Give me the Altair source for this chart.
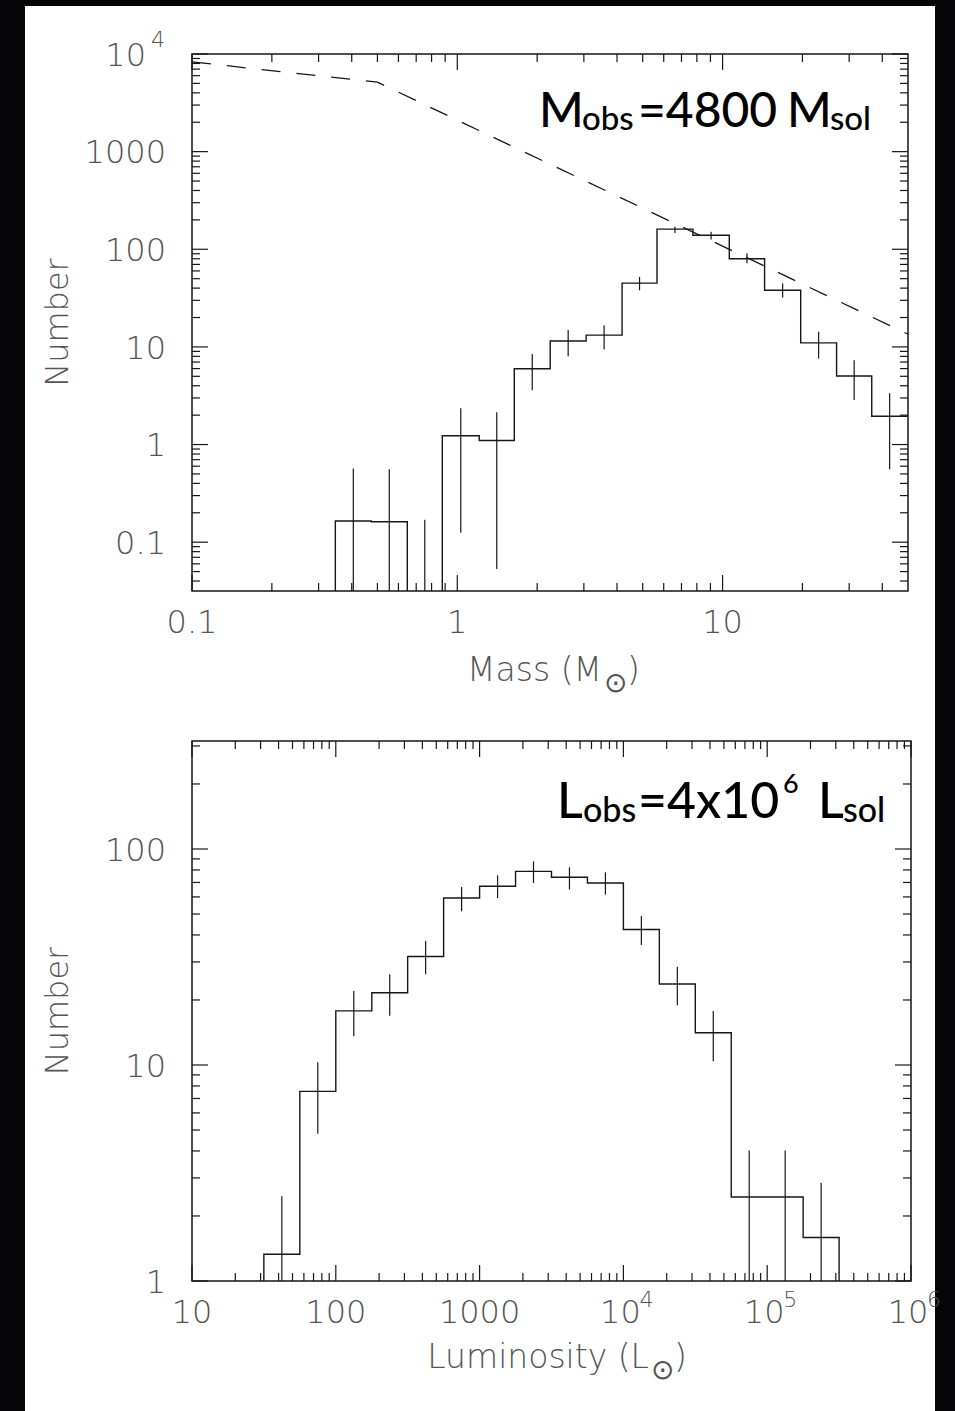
import altair as alt
import pandas as pd

# ---------------- data ----------------
# Mass function: histogram bin edges (Msun), counts per bin and error-bar extents
mass_edges = [0.347, 0.474, 0.648, 0.878, 1.21, 1.64, 2.24, 3.06, 4.18,
              5.66, 7.73, 10.6, 14.4, 19.7, 26.9, 36.5, 49.8]
mass_counts = [0.165, 0.162, 0.0, 1.23, 1.10, 5.98, 11.5, 13.2, 45.0,
               161.0, 139.0, 80.0, 38.0, 11.0, 5.03, 1.95]
mass_err_lo = [0, 0, 0, 0.125, 0.053, 3.6, 8.0, 9.4, 38.0,
               147.0, 126.0, 72.0, 32.0, 7.6, 2.86, 0.56]
mass_err_hi = [0.57, 0.56, 0.17, 2.36, 2.14, 8.45, 14.9, 16.7, 52.0,
               170.0, 151.0, 91.0, 45.0, 14.3, 7.3, 3.35]

# Model IMF (dashed curve)
imf_mass = [0.1, 0.5, 50.0]
imf_number = [8300.0, 5140.0, 13.5]

# Luminosity function: bin edges (Lsun), counts and error-bar extents
lum_edges = [31.6, 56.2, 100, 178, 316, 562, 1000, 1778, 3162, 5623,
             10000, 17783, 31623, 56234, 100000, 177828, 316228]
lum_counts = [1.33, 7.55, 17.8, 21.6, 31.8, 59.3, 67.2, 78.8, 74.0,
              69.6, 42.4, 23.7, 14.1, 2.45, 2.45, 1.59]
lum_err_lo = [0, 4.8, 13.6, 16.9, 26.3, 51.5, 59.3, 69.6, 64.9,
              61.5, 35.9, 18.9, 10.4, 0, 0, 0]
lum_err_hi = [2.47, 10.3, 22.0, 26.3, 37.5, 66.7, 75.5, 87.7, 82.2,
              78.0, 48.9, 28.5, 17.8, 4.02, 4.02, 2.85]

# Axis tick values and their labels ("10^4" = 10 with exponent 4)
mass_ticks = [0.1, 1, 10]
mass_tick_labels = ["0.1", "1", "10"]
num_top_ticks = [0.1, 1, 10, 100, 1000, 10000]
num_top_labels = ["0.1", "1", "10", "100", "1000", "10^4"]
lum_ticks = [10, 100, 1000, 10000, 100000, 1000000]
lum_tick_labels = ["10", "100", "1000", "10^4", "10^5", "10^6"]
num_bot_ticks = [1, 10, 100]
num_bot_labels = ["1", "10", "100"]

# ---------------- styling / layout ----------------
TOP_W, TOP_H = 716, 537
BOT_W, BOT_H = 719, 540
GAP = 150
OX, OY = 192, 54          # top-left of the upper plot area on the page
PAGE_W, PAGE_H = 955, 1411

INK = "#161616"
LABEL_FONT = "DejaVu Sans"
LABEL_COLOR = "#555555"
LABEL_SIZE = 32
EXP_SIZE = 22
TITLE_SIZE = 33
NOTE_FONT = "Lato"
NOTE_WEIGHT = 500

one = pd.DataFrame({"k": [0]})


def split_labels(vals, labels):
    plain = pd.DataFrame({"v": [v for v, l in zip(vals, labels) if "^" not in l],
                          "t": [l for l in labels if "^" not in l]})
    pw = [(v, l.split("^")) for v, l in zip(vals, labels) if "^" in l]
    power = pd.DataFrame({"v": [v for v, _ in pw],
                          "b": [p[0] for _, p in pw],
                          "e": [p[1] for _, p in pw]})
    return plain, power


def label_mark(align, size=LABEL_SIZE, dx=0, dy=0):
    return dict(align=align, baseline="alphabetic", font=LABEL_FONT, fontSize=size,
                fontWeight=200, color=LABEL_COLOR, dx=dx, dy=dy)


def y_labels(scale, vals, labels):
    plain, power = split_labels(vals, labels)
    Y = alt.Y("v:Q", scale=scale, axis=None)
    out = [alt.Chart(plain).mark_text(**label_mark("right", dy=11.7)).encode(
        y=Y, x=alt.value(-26), text="t:N")]
    if len(power):
        out.append(alt.Chart(power).mark_text(**label_mark("right", dy=11.7)).encode(
            y=Y, x=alt.value(-46), text="b:N"))
        out.append(alt.Chart(power).mark_text(**label_mark("left", EXP_SIZE, dy=-7)).encode(
            y=Y, x=alt.value(-41), text="e:N"))
    return out


def x_labels(scale, vals, labels, H):
    plain, power = split_labels(vals, labels)
    X = alt.X("v:Q", scale=scale, axis=None)
    out = [alt.Chart(plain).mark_text(**label_mark("center")).encode(
        x=X, y=alt.value(H + 42), text="t:N")]
    if len(power):
        out.append(alt.Chart(power).mark_text(**label_mark("center", dx=-3)).encode(
            x=X, y=alt.value(H + 42), text="b:N"))
        out.append(alt.Chart(power).mark_text(**label_mark("left", EXP_SIZE, dx=16)).encode(
            x=X, y=alt.value(H + 26), text="e:N"))
    return out


def step_frame(edges, counts, floor, close_right):
    xs, ys = [edges[0]], [floor]
    for i, c in enumerate(counts):
        v = c if c > 0 else floor
        xs += [edges[i], edges[i + 1]]
        ys += [v, v]
    if close_right:
        xs.append(edges[-1])
        ys.append(floor)
    return pd.DataFrame({"x": xs, "y": ys, "i": list(range(len(xs)))})


def err_frame(edges, lo, hi, floor):
    centers = [(edges[i] * edges[i + 1]) ** 0.5 for i in range(len(lo))]
    return pd.DataFrame({"x": centers,
                         "lo": [l if l > 0 else floor for l in lo],
                         "hi": hi})


def decade_minors(lo_exp, hi_exp, vmin, vmax):
    out = []
    for e in range(lo_exp, hi_exp + 1):
        for m in range(2, 10):
            v = m * 10.0 ** e
            if vmin < v < vmax:
                out.append(v)
    return out


def tick_layers(xs, ys, W, H, x_major, x_minor, y_major, y_minor):
    layers = []
    for vals, ln in ((x_major, 16), (x_minor, 8)):
        df = pd.DataFrame({"v": vals})
        X = alt.X("v:Q", scale=xs, axis=None)
        layers.append(alt.Chart(df).mark_rule(color=INK, strokeWidth=1.2).encode(
            x=X, y=alt.value(H), y2=alt.value(H - ln)))
        layers.append(alt.Chart(df).mark_rule(color=INK, strokeWidth=1.2).encode(
            x=X, y=alt.value(0), y2=alt.value(ln)))
    for vals, ln in ((y_major, 16), (y_minor, 8)):
        df = pd.DataFrame({"v": vals})
        Y = alt.Y("v:Q", scale=ys, axis=None)
        layers.append(alt.Chart(df).mark_rule(color=INK, strokeWidth=1.2).encode(
            y=Y, x=alt.value(0), x2=alt.value(ln)))
        layers.append(alt.Chart(df).mark_rule(color=INK, strokeWidth=1.2).encode(
            y=Y, x=alt.value(W), x2=alt.value(W - ln)))
    return layers


def txt(s, x, y, size, font=LABEL_FONT, color=LABEL_COLOR, align="left",
        baseline="alphabetic", angle=0, weight=200):
    return alt.Chart(one).mark_text(
        text=s, fontSize=size, font=font, color=color, align=align,
        baseline=baseline, angle=angle, fontWeight=weight).encode(
        x=alt.value(x), y=alt.value(y))


def note(s, x, y, size):
    return txt(s, x, y, size, NOTE_FONT, "black", weight=NOTE_WEIGHT)


def frame(W, H):
    return alt.Chart(one).mark_rect(fillOpacity=0, stroke=INK, strokeWidth=1.5).encode(
        x=alt.value(0), x2=alt.value(W), y=alt.value(0), y2=alt.value(H))


# ---------------- upper panel: mass function ----------------
mx = alt.Scale(type="log", domain=[0.1, 50], nice=False)
my = alt.Scale(type="log", domain=[10 ** -1.5, 1e4], nice=False)
m_floor = 1e-3

page_bg = alt.Chart(one).mark_rect(color="#060608").encode(
    x=alt.value(-OX), x2=alt.value(PAGE_W - OX),
    y=alt.value(-OY), y2=alt.value(PAGE_H - OY))
card = alt.Chart(one).mark_rect(color="white").encode(
    x=alt.value(25 - OX), x2=alt.value(935 - OX),
    y=alt.value(6 - OY), y2=alt.value(PAGE_H - OY))

m_hist = alt.Chart(step_frame(mass_edges, mass_counts, m_floor, False)).mark_line(
    clip=True, color=INK, strokeWidth=1.4).encode(
    x=alt.X("x:Q", scale=mx, axis=None),
    y=alt.Y("y:Q", scale=my, axis=None),
    order="i:Q")
m_err = alt.Chart(err_frame(mass_edges, mass_err_lo, mass_err_hi, m_floor)).mark_rule(
    clip=True, color=INK, strokeWidth=1.2).encode(
    x=alt.X("x:Q", scale=mx, axis=None),
    y=alt.Y("lo:Q", scale=my, axis=None), y2="hi:Q")
imf = alt.Chart(pd.DataFrame({"m": imf_mass, "n": imf_number})).mark_line(
    clip=True, color=INK, strokeWidth=1.3, strokeDash=[19, 16]).encode(
    x=alt.X("m:Q", scale=mx, axis=None), y=alt.Y("n:Q", scale=my, axis=None))

m_ticks = tick_layers(
    mx, my, TOP_W, TOP_H, [0.1, 1, 10], decade_minors(-1, 1, 0.1, 50),
    [0.1, 1, 10, 100, 1000, 10000], decade_minors(-2, 3, 10 ** -1.5, 1e4))

top_text = [
    note("M", 347, 73, 48),
    note("obs", 390, 76, 33),
    note("=4800", 446, 73, 48),
    note("M", 595, 73, 48),
    note("sol", 638, 76, 33),
    txt("Number", -134, TOP_H / 2, 32, angle=270, align="center", baseline="middle"),
    txt("Mass (M", 410, 627, TITLE_SIZE, align="right"),
    txt("⊙", 423, 638, 28, align="center"),
    txt(")", 435, 627, TITLE_SIZE),
]

top = alt.layer(page_bg, card, m_hist, m_err, imf, *m_ticks, frame(TOP_W, TOP_H),
                *x_labels(mx, mass_ticks, mass_tick_labels, TOP_H),
                *y_labels(my, num_top_ticks, num_top_labels),
                *top_text).properties(width=TOP_W, height=TOP_H)

# ---------------- lower panel: luminosity function ----------------
lx = alt.Scale(type="log", domain=[10, 1e6], nice=False)
ly = alt.Scale(type="log", domain=[1, 10 ** 2.5], nice=False)
l_floor = 0.1

l_hist = alt.Chart(step_frame(lum_edges, lum_counts, l_floor, True)).mark_line(
    clip=True, color=INK, strokeWidth=1.4).encode(
    x=alt.X("x:Q", scale=lx, axis=None),
    y=alt.Y("y:Q", scale=ly, axis=None),
    order="i:Q")
l_err = alt.Chart(err_frame(lum_edges, lum_err_lo, lum_err_hi, l_floor)).mark_rule(
    clip=True, color=INK, strokeWidth=1.2).encode(
    x=alt.X("x:Q", scale=lx, axis=None),
    y=alt.Y("lo:Q", scale=ly, axis=None), y2="hi:Q")

l_ticks = tick_layers(
    lx, ly, BOT_W, BOT_H, [10, 100, 1000, 1e4, 1e5, 1e6], decade_minors(1, 5, 10, 1e6),
    [1, 10, 100], decade_minors(0, 2, 1, 10 ** 2.5))

bot_text = [
    note("L", 365, 77, 50),
    note("obs", 391, 81, 34),
    note("=4x10", 446, 77, 50),
    note("6", 591, 52, 27),
    note("L", 626, 77, 50),
    note("sol", 651, 81, 34),
    txt("Number", -134, BOT_H / 2, 32, angle=270, align="center", baseline="middle"),
    txt("Luminosity (L", 457, 627, TITLE_SIZE, align="right"),
    txt("⊙", 470, 638, 28, align="center"),
    txt(")", 482, 627, TITLE_SIZE),
]

bottom = alt.layer(l_hist, l_err, *l_ticks, frame(BOT_W, BOT_H),
                   *x_labels(lx, lum_ticks, lum_tick_labels, BOT_H),
                   *y_labels(ly, num_bot_ticks, num_bot_labels),
                   *bot_text).properties(width=BOT_W, height=BOT_H)

chart = alt.vconcat(top, bottom, spacing=GAP, bounds="flush").properties(
    padding=0, background="#060608").configure_view(stroke=None)

chart.save("out.html", embed_options={"renderer": "svg", "actions": False})
